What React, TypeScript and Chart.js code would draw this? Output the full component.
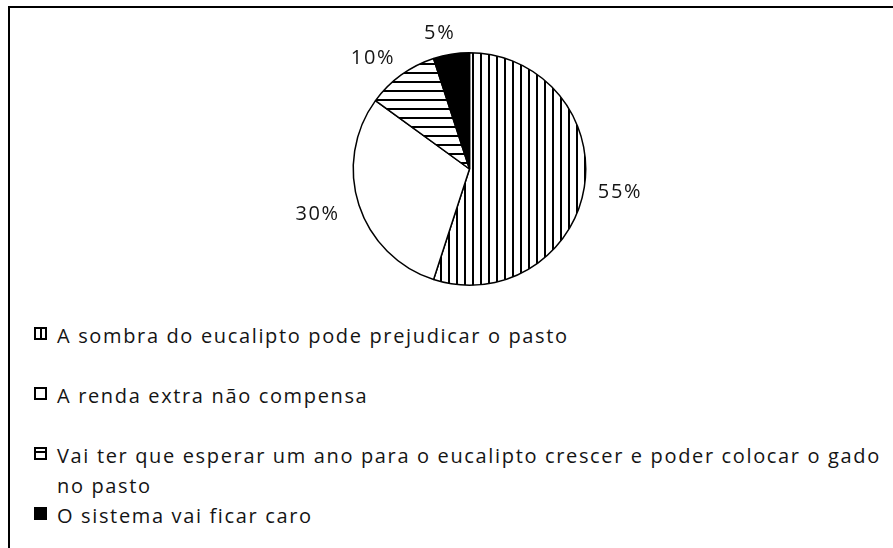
import React, { useEffect, useRef } from "react";
import { Chart, registerables } from "chart.js";

Chart.register(...registerables);

// ---- data ----
const categories = [
  "A sombra do eucalipto pode prejudicar o pasto",
  "A renda extra não compensa",
  "Vai ter que esperar um ano para o eucalipto crescer e poder colocar o gado no pasto",
  "O sistema vai ficar caro",
];
const shares = [55, 30, 10, 5];
const valueLabels = ["55%", "30%", "10%", "5%"];
const fillKinds = ["vertical", "blank", "horizontal", "solid"];

const TEXT_COLOR = "#141414";
const FONT = '"Open Sans", "DejaVu Sans", sans-serif';

function makeFill(kind: string): any {
  if (kind === "solid") return "#000000";
  if (kind === "blank") return "#ffffff";
  const period = kind === "vertical" ? 8 : 9;
  const c = document.createElement("canvas");
  c.width = period;
  c.height = period;
  const g = c.getContext("2d")!;
  g.fillStyle = "#ffffff";
  g.fillRect(0, 0, period, period);
  g.fillStyle = "#000000";
  if (kind === "vertical") g.fillRect(0, 0, 2, period);
  else g.fillRect(0, 0, period, 2);
  return g.createPattern(c, "repeat");
}

const outsideLabels = {
  id: "outsideLabels",
  afterDatasetsDraw(chart: any) {
    const ctx = chart.ctx;
    const meta = chart.getDatasetMeta(0);
    ctx.save();
    ctx.font = `20px ${FONT}`;
    try {
      (ctx as any).letterSpacing = "1.6px";
    } catch (e) {}
    ctx.fillStyle = TEXT_COLOR;
    ctx.textAlign = "center";
    ctx.textBaseline = "middle";
    meta.data.forEach((arc: any, i: number) => {
      const p = arc.getProps(["x", "y", "startAngle", "endAngle", "outerRadius"], true);
      const mid = (p.startAngle + p.endAngle) / 2;
      const text = valueLabels[i];
      const w = ctx.measureText(text).width;
      const h = 18;
      const d = p.outerRadius + 14;
      const c = Math.cos(mid);
      const cx = p.x + c * (d + w / 2) + (c < 0 ? -7 : 0);
      const cy = p.y + Math.sin(mid) * (d + h / 2) + 2;
      ctx.fillText(text, cx, cy);
    });
    ctx.restore();
  },
};

function Marker({ kind }: { kind: string }) {
  const base: React.CSSProperties = {
    position: "relative",
    width: 13,
    height: 13,
    boxSizing: "border-box",
    border: "2px solid #000",
    background: kind === "solid" ? "#000" : "#fff",
    marginTop: 6,
    flex: "0 0 auto",
  };
  return (
    <div style={base}>
      {kind === "vertical" && (
        <div style={{ position: "absolute", left: 3.5, top: 0, width: 2, height: 9, background: "#000" }} />
      )}
      {kind === "horizontal" && (
        <div style={{ position: "absolute", left: 0, top: 2, width: 9, height: 2, background: "#000" }} />
      )}
    </div>
  );
}

export default function App() {
  const canvasRef = useRef<HTMLCanvasElement | null>(null);

  useEffect(() => {
    const canvas = canvasRef.current!;
    const chart = new Chart(canvas, {
      type: "pie",
      data: {
        labels: categories,
        datasets: [
          {
            data: shares,
            backgroundColor: fillKinds.map(makeFill),
            borderColor: "#000000",
            borderWidth: 1.5,
          },
        ],
      },
      options: {
        animation: false,
        responsive: false,
        maintainAspectRatio: false,
        layout: { padding: { left: 352, right: 306, top: 52, bottom: 14 } },
        plugins: {
          legend: { display: false },
          tooltip: { enabled: false },
        },
      },
      plugins: [outsideLabels],
    });
    return () => chart.destroy();
  }, []);

  const rowMargins = [0, 30, 30, 0];

  return (
    <div style={{ position: "absolute", left: 0, top: 0, width: 893, height: 548, overflow: "hidden", background: "#fff" }}>
      <div style={{ position: "absolute", left: 8, top: 6, width: 885, height: 2, background: "#000" }} />
      <div style={{ position: "absolute", left: 8, top: 6, width: 2, height: 542, background: "#000" }} />
      <canvas
        ref={canvasRef}
        width={893}
        height={300}
        style={{ position: "absolute", left: 0, top: 0, width: 893, height: 300 }}
      />
      <div
        style={{
          position: "absolute",
          left: 34,
          top: 321,
          width: 853,
          fontFamily: FONT,
          fontSize: 20,
          letterSpacing: "1.65px",
          lineHeight: "30px",
          color: TEXT_COLOR,
        }}
      >
        {categories.map((c, i) => (
          <div key={c} style={{ display: "flex", alignItems: "flex-start", marginTop: rowMargins[i] }}>
            <Marker kind={fillKinds[i]} />
            <div style={{ marginLeft: 10 }}>{c}</div>
          </div>
        ))}
      </div>
    </div>
  );
}
